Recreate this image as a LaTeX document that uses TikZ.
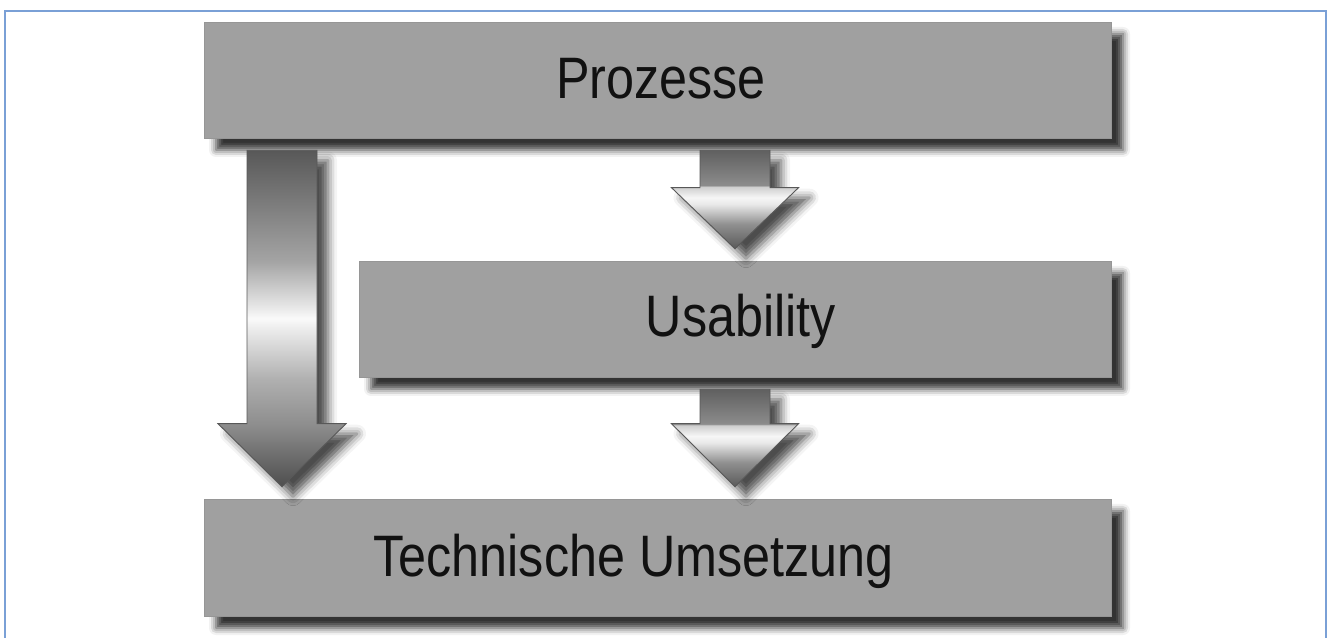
\documentclass[tikz,border=0pt]{standalone}
\usepackage{fontspec}
\newfontfamily\labelfont{Liberation Sans}[FakeStretch=0.86]
\usetikzlibrary{shadows.blur}

\definecolor{framecol}{RGB}{122,160,214}
\definecolor{boxfill}{RGB}{160,160,160}
\definecolor{boxedge}{RGB}{150,150,150}
\definecolor{textcol}{RGB}{17,17,17}
\definecolor{arrowedge}{RGB}{88,88,88}
% long arrow tones, tip to tail
\definecolor{la0}{RGB}{78,78,78}
\definecolor{la1}{RGB}{142,142,142}
\definecolor{la2}{RGB}{176,176,176}
\definecolor{la3}{RGB}{236,236,236}
\definecolor{la4}{RGB}{250,250,250}
\definecolor{la5}{RGB}{228,228,228}
\definecolor{la6}{RGB}{164,164,164}
\definecolor{la7}{RGB}{122,122,122}
\definecolor{la8}{RGB}{88,88,88}
% short arrow tones, tip to tail
\definecolor{sa0}{RGB}{90,90,90}
\definecolor{sa1}{RGB}{144,144,144}
\definecolor{sa2}{RGB}{232,232,232}
\definecolor{sa3}{RGB}{246,246,246}
\definecolor{sa4}{RGB}{205,205,205}
\definecolor{sa5}{RGB}{140,140,140}
\definecolor{sa6}{RGB}{96,96,96}

% path bounding box maps to 25bp..75bp
\pgfdeclareverticalshading{longarrow}{100bp}{%
  color(0bp)=(la0); color(25bp)=(la0); color(34.35bp)=(la1); color(41bp)=(la2);
  color(48.5bp)=(la3); color(50bp)=(la4); color(52bp)=(la5); color(58.5bp)=(la6);
  color(67.5bp)=(la7); color(75bp)=(la8); color(100bp)=(la8)}
\pgfdeclareverticalshading{shortarrow}{100bp}{%
  color(0bp)=(sa0); color(25bp)=(sa0); color(37.5bp)=(sa1); color(47.5bp)=(sa2);
  color(51bp)=(sa3); color(56.6bp)=(sa4); color(57.1bp)=(sa5); color(75bp)=(sa6);
  color(100bp)=(sa6)}

% block arrow pointing down from one box to the next:
% #1 centre x, #2 source node, #3 target node, #4 head half width, #5 head length, #6 shading
\newcommand\flowarrow[6]{%
  \path[flow, shade, shading=#6] let \p1=(#2.south), \p2=(#3.north) in
    (#1pt-35pt,\y1-12pt) -- (#1pt+35pt,\y1-12pt) -- (#1pt+35pt,\y2+12pt+#5pt)
    -- (#1pt+#4pt,\y2+12pt+#5pt) -- (#1pt,\y2+12pt) -- (#1pt-#4pt,\y2+12pt+#5pt)
    -- (#1pt-35pt,\y2+12pt+#5pt) -- cycle;}

\begin{document}
\begin{tikzpicture}[x=1pt,y=1pt,
  box/.style={draw=boxedge, fill=boxfill, line width=0.6pt, inner sep=0pt,
    blur shadow={shadow xshift=12pt, shadow yshift=-12pt, shadow blur radius=7pt, shadow opacity=80}},
  caption/.style={anchor=base, inner sep=0pt, text=textcol,
    font=\labelfont\fontsize{58.5}{60}\selectfont},
  flow/.style={draw=arrowedge, line width=0.9pt, line join=miter,
    blur shadow={shadow xshift=11pt, shadow yshift=-10pt, shadow blur radius=9pt, shadow opacity=70}}]

\useasboundingbox (0,0) rectangle (1327,637);
\draw[framecol, line width=1.5pt] (5,-2) -- (5,626) -- (1326,626) -- (1326,-2);

% layers
\node[box, minimum width=907pt, minimum height=116pt] (P) at (657.5,557) {};
\node[box, minimum width=752pt, minimum height=116pt] (U) at (735,318) {};
\node[box, minimum width=907pt, minimum height=117pt] (T) at (657.5,79.5) {};

\node[caption] (Pt) at (661,538) {Prozesse};
\node[caption] (Ut) at (741,300) {Usability};
\node[caption] (Tt) at (633.5,60) {Technische Umsetzung};

% arrows
\flowarrow{282}{P}{T}{64}{63}{longarrow}
\flowarrow{735}{P}{U}{63.5}{61}{shortarrow}
\flowarrow{735}{U}{T}{63.5}{63}{shortarrow}
\end{tikzpicture}
\end{document}
